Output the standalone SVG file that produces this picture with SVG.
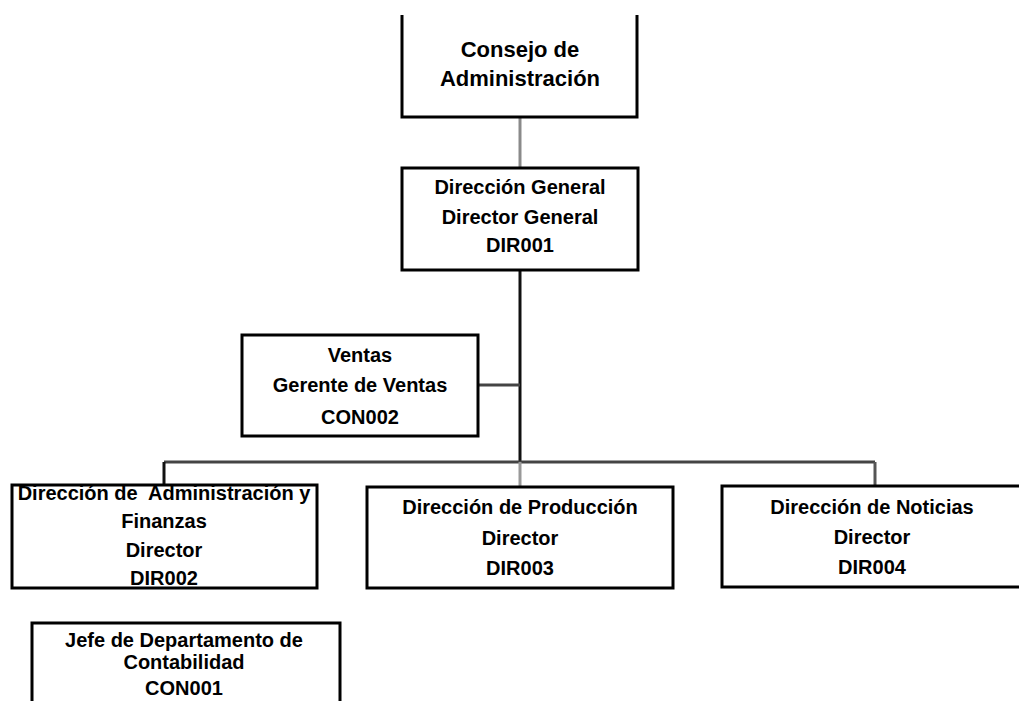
<svg xmlns="http://www.w3.org/2000/svg" width="1019" height="701" viewBox="0 0 1019 701">
<style>
.box{fill:#fff;stroke:#000;stroke-width:3}
text{font-family:"Liberation Sans",Arial,sans-serif;font-weight:bold;font-size:20px;fill:#000;text-anchor:middle}
.big{font-size:22px}
.c{fill:none;stroke-width:3}
</style>
<rect width="1019" height="701" fill="#fff"/>
<g id="connectors">
<line class="c" x1="520" y1="117" x2="520" y2="168" stroke="#8a8a8a"/>
<line class="c" x1="520" y1="270" x2="520" y2="462" stroke="#111"/>
<line class="c" x1="477" y1="385" x2="520" y2="385" stroke="#444"/>
<line class="c" x1="164" y1="462" x2="875" y2="462" stroke="#444"/>
<line class="c" x1="164" y1="462" x2="164" y2="485" stroke="#111"/>
<line class="c" x1="520" y1="462" x2="520" y2="487" stroke="#999"/>
<line class="c" x1="875" y1="462" x2="875" y2="485" stroke="#555"/>
</g>
<g id="consejo">
<path class="box" d="M402,15 V117 H637 V15"/>
<text class="big" x="520" y="57">Consejo de</text>
<text class="big" x="520" y="86">Administración</text>
</g>
<g id="direccion-general">
<rect class="box" x="402" y="168" width="236" height="102"/>
<text x="520" y="194">Dirección General</text>
<text x="520" y="224">Director General</text>
<text x="520" y="252">DIR001</text>
</g>
<g id="ventas">
<rect class="box" x="242" y="335" width="236" height="101"/>
<text x="360" y="362">Ventas</text>
<text x="360" y="392">Gerente de Ventas</text>
<text x="360" y="424">CON002</text>
</g>
<g id="administracion">
<rect class="box" x="12" y="485" width="305" height="103"/>
<text x="164" y="500" xml:space="preserve">Dirección de  Administración y</text>
<text x="164" y="528">Finanzas</text>
<text x="164" y="557">Director</text>
<text x="164" y="585">DIR002</text>
</g>
<g id="produccion">
<rect class="box" x="367" y="487" width="306" height="101"/>
<text x="520" y="514">Dirección de Producción</text>
<text x="520" y="545">Director</text>
<text x="520" y="575">DIR003</text>
</g>
<g id="noticias">
<rect class="box" x="722" y="486" width="300" height="101"/>
<text x="872" y="514">Dirección de Noticias</text>
<text x="872" y="544">Director</text>
<text x="872" y="574">DIR004</text>
</g>
<g id="contabilidad">
<path class="box" d="M32,705 V623 H340 V705"/>
<text x="184" y="647">Jefe de Departamento de</text>
<text x="184" y="669">Contabilidad</text>
<text x="184" y="695">CON001</text>
</g>
</svg>
